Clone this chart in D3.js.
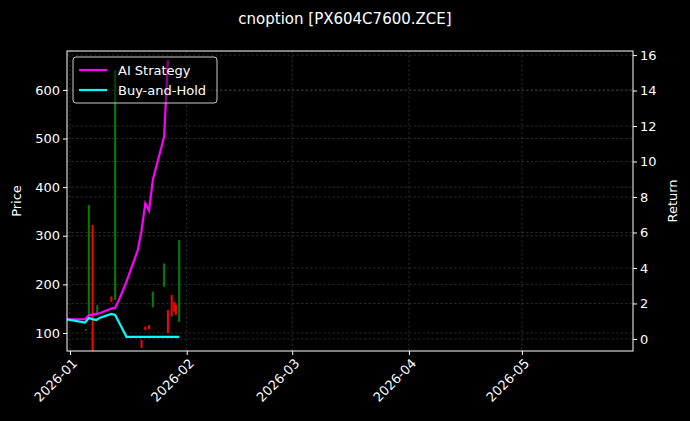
<!DOCTYPE html>
<html><head><meta charset="utf-8">
<script src="https://cdn.jsdelivr.net/npm/d3@7"></script>
<style>body{margin:0;background:#000}text{font-family:"DejaVu Sans",sans-serif}</style>
</head><body><svg id="c" width="690" height="421"></svg>
<script>
const retDates=["2025-12-31","2026-01-05","2026-01-06","2026-01-07","2026-01-08","2026-01-09","2026-01-12","2026-01-13","2026-01-14","2026-01-15","2026-01-16","2026-01-19","2026-01-20","2026-01-21","2026-01-22","2026-01-23","2026-01-26","2026-01-27","2026-01-28","2026-01-29","2026-01-30"];
const aiRet=[1.11,1.11,1.33,1.37,1.41,1.46,1.71,1.76,2.2,2.7,3.23,5.0,6.1,7.64,7.23,8.96,11.4,15.7];
const bhRet=[1.11,0.92,1.18,1.12,1.07,1.2,1.41,1.35,0.94,0.53,0.12,0.12,0.12,0.12,0.12,0.12,0.12,0.12,0.12,0.12,0.12];
const candleDates=["2026-01-05T06:00","2026-01-06T00:00","2026-01-07T00:00","2026-01-08T06:00","2026-01-12T00:00","2026-01-13T00:00","2026-01-20T00:00","2026-01-21T00:00","2026-01-22T00:00","2026-01-23T00:00","2026-01-26T00:00","2026-01-27T00:00","2026-01-28T00:00","2026-01-28T16:00","2026-01-29T03:00","2026-01-30T00:00"];
const cOpen =[105,137,322,137,175,168,86,113,116,153,195,147,178,164,158,123];
const cHigh =[108,363,322,157,175,640,86,113,116,185,243,147,178,164,158,291];
const cLow  =[105,137,40,137,164,168,69,106,108,153,195,100,134,144,137,123];
const cClose=[108,363,40,157,164,640,69,106,108,185,243,100,134,144,137,291];
const priceTicks=[100,200,300,400,500,600];
const retTicks=[0,2,4,6,8,10,12,14,16];
const monthTicks=["2026-01-01","2026-02-01","2026-03-01","2026-04-01","2026-05-01"];

const svg=d3.select("#c"),L=67,R=633,T=51,B=351;
const x=d3.scaleTime().domain([new Date(2025,11,31,5,0),new Date(2026,4,30,12,0)]).range([L,R]);
const yP=d3.scaleLinear().domain([63,680]).range([B,T]);
const yR=d3.scaleLinear().domain([-0.68,16.23]).range([B,T]);
const pd=s=>new Date(s.length>10?s:s+"T00:00");
svg.append("defs").append("clipPath").attr("id","cp").append("rect").attr("x",L).attr("y",T).attr("width",R-L).attr("height",B-T);
const grid=svg.append("g").attr("stroke","#444").attr("stroke-dasharray","2.5,2").attr("stroke-width",0.6);
priceTicks.forEach(v=>grid.append("line").attr("x1",L).attr("x2",R).attr("y1",yP(v)).attr("y2",yP(v)));
retTicks.forEach(v=>grid.append("line").attr("x1",L).attr("x2",R).attr("y1",yR(v)).attr("y2",yR(v)));
monthTicks.forEach(d=>grid.append("line").attr("y1",T).attr("y2",B).attr("x1",x(pd(d))).attr("x2",x(pd(d))));
const pg=svg.append("g").attr("clip-path","url(#cp)");
candleDates.forEach((d,i)=>{
  const up=cClose[i]>=cOpen[i], col=up?"#008000":"#ff0000", xx=x(pd(d));
  pg.append("line").attr("x1",xx).attr("x2",xx).attr("y1",yP(cHigh[i])).attr("y2",yP(cLow[i])).attr("stroke",col).attr("stroke-width",0.8);
  pg.append("line").attr("x1",xx).attr("x2",xx).attr("y1",yP(Math.max(cOpen[i],cClose[i]))).attr("y2",yP(Math.min(cOpen[i],cClose[i]))).attr("stroke",col).attr("stroke-width",2);
});
const line=arr=>d3.line().x((d,i)=>x(pd(retDates[i]))).y(d=>yR(d))(arr);
pg.append("path").attr("d",line(aiRet)).attr("fill","none").attr("stroke","#ff00ff").attr("stroke-width",2.2);
pg.append("path").attr("d",line(bhRet)).attr("fill","none").attr("stroke","#00ffff").attr("stroke-width",2.2);
svg.append("rect").attr("x",L).attr("y",T).attr("width",R-L).attr("height",B-T).attr("fill","none").attr("stroke","#fff").attr("stroke-width",1);
const ax=svg.append("g").attr("transform",`translate(0,${B})`).call(d3.axisBottom(x).tickValues(monthTicks.map(pd)).tickFormat(d3.timeFormat("%Y-%m")).tickSize(4));
ax.selectAll("text").attr("transform","rotate(-45)").attr("text-anchor","end").attr("dx","-0.3em").attr("dy","0.6em");
const al=svg.append("g").attr("transform",`translate(${L},0)`).call(d3.axisLeft(yP).tickValues(priceTicks).tickSize(4));
const ar=svg.append("g").attr("transform",`translate(${R},0)`).call(d3.axisRight(yR).tickValues(retTicks).tickSize(4));
[ax,al,ar].forEach(a=>{a.select(".domain").remove();a.selectAll("line").attr("stroke","#fff");a.selectAll("text").attr("fill","#fff").attr("font-size",13);});
svg.append("text").attr("x",345).attr("y",24).attr("text-anchor","middle").attr("fill","#fff").attr("font-size",15).text("cnoption [PX604C7600.ZCE]");
svg.append("text").attr("transform","translate(21,201) rotate(-90)").attr("text-anchor","middle").attr("fill","#fff").attr("font-size",13).text("Price");
svg.append("text").attr("transform","translate(677,201) rotate(-90)").attr("text-anchor","middle").attr("fill","#fff").attr("font-size",13).text("Return");
const lg=svg.append("g");
lg.append("rect").attr("x",73).attr("y",57).attr("width",144).attr("height",46).attr("rx",3).attr("fill","#000").attr("fill-opacity",0.45).attr("stroke","#ccc");
[["AI Strategy","#ff00ff"],["Buy-and-Hold","#00ffff"]].forEach((e,i)=>{
  const yy=70+i*20;
  lg.append("line").attr("x1",79).attr("x2",107).attr("y1",yy).attr("y2",yy).attr("stroke",e[1]).attr("stroke-width",2.2);
  lg.append("text").attr("x",118).attr("y",yy+4.5).attr("fill","#fff").attr("font-size",13).text(e[0]);
});
</script></body></html>
